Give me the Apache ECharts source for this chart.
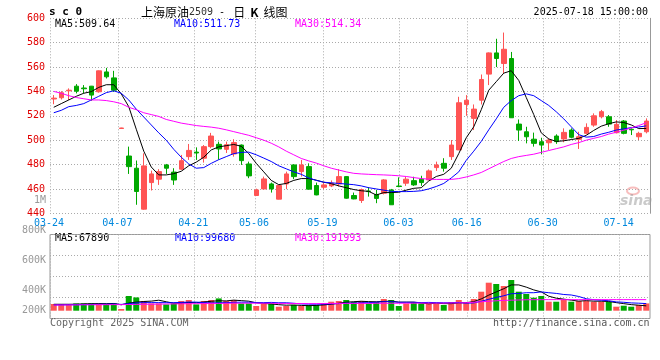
<!DOCTYPE html>
<html><head><meta charset="utf-8">
<script src="https://cdn.jsdelivr.net/npm/echarts@6/dist/echarts.min.js"></script>
<style>html,body{margin:0;padding:0;background:#fff}#c{width:660px;height:360px}</style>
</head><body><div id="c"></div>
<script>
const dates=['03-24','03-25','03-26','03-27','03-28','03-31','04-01','04-02','04-03','04-07','04-08','04-09','04-10','04-11','04-14','04-15','04-16','04-17','04-18','04-21','04-22','04-23','04-24','04-25','04-28','04-29','04-30','05-06','05-07','05-08','05-09','05-12','05-13','05-14','05-15','05-16','05-19','05-20','05-21','05-22','05-23','05-26','05-27','05-28','05-29','05-30','06-03','06-04','06-05','06-06','06-09','06-10','06-11','06-12','06-13','06-16','06-17','06-18','06-19','06-20','06-23','06-24','06-25','06-26','06-27','06-30','07-01','07-02','07-03','07-04','07-07','07-08','07-09','07-10','07-11','07-14','07-15','07-16','07-17','07-18'];
const labelDates=['03-24','04-07','04-21','05-06','05-19','06-03','06-16','06-30','07-14'];

const open=[533.8,534.8,540.5,544.3,542.8,544.3,539.7,556,551.1,509.6,
487,477,443.4,465.2,468,479.7,473.8,476.2,486.5,490.2,
485.2,494.7,496.6,492.5,488.7,496,480.5,454.6,460,464.1,
451.6,464.1,479.7,474.2,478.3,462.8,461.4,462.5,464.1,470.1,
454.6,450.5,458.3,455.5,456.5,459.2,462.4,464.7,466.8,468,
467.4,477.5,481,486.5,492,529.3,517.9,532.8,554.2,571.6,
562.9,567,513.2,506.9,500.8,498.7,497.9,503.4,501,508.3,
500.7,505.6,512.4,519.2,519.2,506.1,515.7,509,502.8,506.9];
const close=[534.5,538.9,541,540.2,542.2,537,556.9,552,541,510,
478.3,457.9,478.9,472.3,474.2,477,467.3,483.2,491.6,489.5,
494.7,503.4,492.8,496.3,498,483.2,470.7,459.2,468.2,460,
462.8,472.3,470.1,479.7,459.8,455.1,463.3,464.7,470.1,452.4,
451.8,459.5,457.8,452.2,467.4,447,462,468,463.3,465.2,
474.8,479.7,477,496,530.7,532.8,525.5,549.8,571.6,567,
574.6,518.4,508.3,502.8,497.4,496,500.1,498.8,506.4,502.4,
502.8,510.5,520,523.4,513.2,513,505.6,508.5,505.6,515.7];
const low=[529.5,533.4,532.9,538.4,538.4,532.3,539,550.6,539.7,509.4,
472.3,447,442.9,458.7,463.3,472.3,463.3,475.6,483.8,483.8,
481.6,493.4,484,489.5,486.5,479.7,468.8,454.4,459.8,457,
451.4,459.8,468,470.1,459.6,454.8,459.8,461.5,462,452,
451.5,448.5,453.7,448.3,455.5,446.8,461.4,462.5,462.5,462.5,
467.3,474.8,474.2,483.8,492,520,508.3,529.3,545.2,560,
554.7,518.2,499.3,497.4,494.7,488.4,492,497,498.3,501.5,
492.8,504.8,511,517.9,511,505.6,504.8,504.2,500.1,505.6];
const high=[537,540.2,542.5,546,545.2,544.5,557.2,559.3,556.9,510.2,
494.7,483.3,489.2,475,476.2,480.5,477,487.9,496.9,494.1,
496,506,498.8,498.8,500.8,496.5,482.4,460.2,470.1,465.2,
463.2,474.2,480.2,483.8,481,465.2,465.2,467,476.2,470.5,
457,460.3,461.5,459.2,468,460,469.5,470,470,470.8,
476,482.4,485.2,500.1,535.6,537,529.3,553.9,572,583.2,
588.3,572.4,517,511,506.2,502,501.5,504.8,509.7,509.7,
506.9,513.8,522,524.8,520.6,516.5,516.5,509.7,506.9,517.9];

const ma5=[527,530,533,536,538.5,539.8,543.3,545.5,545.5,538,
527.5,509,491,478,471.5,471.5,472.5,474.5,479,482,
486,492,494.5,495.5,496.5,495,489,481,474,467,
463.5,464.5,467,468.5,468.5,467.2,465.5,464.3,462.5,461,
459.5,458.5,458,455,457,457,457.3,459,460.5,461,
466.5,470.2,472,477,489,502,511,525,541,548,
555,557,549,535,521,506,501,499,499.5,500.5,
501.5,504,508,511.5,513.5,515,514.5,512.5,509.5,509.64];
const ma10=[522.5,524.5,527.5,528.5,530,533,536,539,540.5,538.5,
533,525.5,519,512.5,506,500,492.5,486,480.5,477,
477.5,481,484,486.5,489,490,490.2,488,485.3,482.5,
479,476.5,474,472,469,467,465.5,465,464.5,464,
463.5,462.5,461,460,459,458,457.8,457.8,458,458.5,
460,462,464.5,469,474,483.5,491,499,508.5,517.5,
527,532.5,536.5,538,536.5,532.5,528.5,523.3,517.5,511,
504.5,502.5,503,505,506.5,508.3,509.3,510.3,510.8,511.73];
const ma30=[540,538.5,536.5,535,534,533,533,532.5,531.5,530,
527,525,522.5,521,519.5,517,515.5,514,513,512,
511.3,510.7,509.8,508.5,507,505.5,504,502,500,497.5,
494.5,491,488,485,483,481.2,479,477,475.5,474,
472.8,472.3,472,471.7,471.5,471.2,470.8,470.2,469.3,468.5,
468,467.8,467.8,467.8,468.5,469.8,471.5,473.5,476.5,479.5,
482.5,485,486.5,487.5,488.5,490,491.5,493,494.5,496.5,
498,500,501.5,503,505,506.5,508.2,510,512,514.34];

const vol=[94000,94000,94000,102000,102000,102000,102000,94000,102000,24000,
206000,186000,136000,102000,102000,88000,102000,136000,150000,88000,
136000,150000,172000,136000,150000,102000,102000,66000,94000,102000,
56000,66000,80000,66000,80000,80000,102000,126000,136000,150000,
122000,136000,102000,122000,164000,150000,66000,102000,122000,102000,
102000,94000,80000,122000,150000,122000,164000,266000,392000,374000,
346000,430000,266000,234000,182000,206000,126000,126000,158000,126000,
136000,136000,126000,126000,122000,56000,70000,56000,80000,102000];
const volMa5=[90000,90000,90000,91000,95000,98000,99000,99000,101000,83000,
106000,120000,129000,134000,147000,125000,105000,106000,116000,112000,
122000,132000,139000,137000,148000,141000,133000,111000,102000,95000,
84000,77000,80000,74000,70000,74000,81000,91000,105000,119000,
126000,132000,127000,125000,130000,134000,120000,120000,120000,108000,
97000,104000,99000,99000,109000,113000,127000,165000,218000,263000,
308000,361000,361000,330000,291000,263000,203000,175000,162000,148000,
134000,141000,134000,133000,129000,113000,99000,85000,77000,67890];
const volMa10=[80000,81000,83000,84000,85000,88000,90000,91000,94000,88000,
99000,108000,113000,113000,113000,112000,112000,116000,120000,120000,
113000,109000,111000,113000,118000,119000,119000,113000,113000,116000,
111000,111000,104000,95000,92000,91000,92000,95000,99000,106000,
106000,111000,113000,118000,126000,126000,118000,118000,118000,113000,
116000,113000,111000,111000,115000,105000,109000,132000,160000,186000,
209000,238000,241000,252000,252000,263000,252000,242000,227000,220000,
199000,167000,154000,147000,139000,123000,118000,109000,105000,99680];
const volMa30=[80000,80000,81000,81000,83000,83000,84000,84000,85000,85000,
87000,88000,90000,91000,92000,94000,95000,97000,98000,98000,
99000,101000,102000,104000,105000,105000,105000,105000,104000,104000,
102000,102000,101000,101000,99000,99000,101000,102000,102000,102000,
102000,102000,102000,104000,104000,104000,104000,105000,105000,106000,
106000,106000,106000,108000,109000,112000,118000,125000,132000,139000,
144000,147000,150000,153000,154000,154000,155000,155000,155000,155000,
155000,155000,155000,155000,155000,155000,155000,155000,155000,155000];

const priceMaLabels=['MA5:509.64','MA10:511.73','MA30:514.34'];
const volMaLabels=['MA5:67890','MA10:99680','MA30:191993'];
const volTickValues=[200000,400000,600000,800000,1000000];
const volTickLabels=['200K','400K','600K','800K','1M'];

const UP='#ff5454', DOWN='#00a800';
const MONO='"DejaVu Sans Mono", monospace';
const CJK='"Noto Sans CJK SC", sans-serif';
const MA_COLORS=['#000000','#0000ff','#ff00ff'];
const dotted={color:'#aaa',type:[1,2],width:1};
const isLabel=(i)=>labelDates.indexOf(dates[i])>=0;

const chart=echarts.init(document.getElementById('c'),null,{renderer:'canvas'});

function txt(x,y,text,color,opts){
  return Object.assign({type:'text',x:x,y:y,silent:true,style:Object.assign({text:text,fill:color,font:'10px '+MONO,
    align:'left',textAlign:'left',verticalAlign:'middle',textVerticalAlign:'middle'},opts||{})});
}

const option={
  animation:false,
  backgroundColor:'#fff',
  grid:[
    {left:50,width:600,top:18.3,height:195},
    {left:50,width:600,top:234.5,height:84,show:true,borderColor:'#999',borderWidth:1,backgroundColor:'transparent'},
    {left:50,width:600,top:234.5,height:76.2},
    {left:50,width:600,top:200.7,height:120}
  ],
  xAxis:[
    {gridIndex:0,type:'category',data:dates,boundaryGap:true,show:false,position:'bottom'},
    {gridIndex:0,type:'category',data:dates,boundaryGap:false,position:'bottom',axisLine:{show:false},axisTick:{show:false},
      axisLabel:{interval:(i)=>isLabel(i),color:'#0088dd',fontFamily:MONO,fontSize:10,margin:5,padding:[0,2,0,0]},
      splitLine:{show:true,interval:(i)=>isLabel(i),lineStyle:dotted}},
    {gridIndex:1,type:'category',data:dates,boundaryGap:false,position:'bottom',axisLine:{show:false},axisTick:{show:false},axisLabel:{show:false},
      splitLine:{show:true,interval:(i)=>isLabel(i),lineStyle:dotted}},
    {gridIndex:2,type:'category',data:dates,boundaryGap:true,show:false,position:'bottom'},
    {gridIndex:3,type:'category',data:dates,boundaryGap:true,show:false,position:'bottom'}
  ],
  yAxis:[
    {gridIndex:0,type:'value',position:'left',min:440,max:600,interval:20,axisLine:{show:false},axisTick:{show:false},
      axisLabel:{color:'#e00000',fontFamily:MONO,fontSize:10,margin:5},splitLine:{show:true,lineStyle:dotted}},
    {gridIndex:0,type:'value',position:'right',min:440,max:600,interval:20,axisLine:{show:true,lineStyle:{color:'#999',width:1}},
      axisTick:{show:false},axisLabel:{show:false},splitLine:{show:false}},
    {gridIndex:1,type:'value',position:'left',min:0,max:4,interval:1,axisLine:{show:false},axisTick:{show:false},axisLabel:{show:false},
      splitLine:{show:true,lineStyle:dotted}},
    {gridIndex:2,type:'value',position:'left',min:0,max:1067000,show:false},
    {gridIndex:3,type:'value',position:'left',min:200000,max:1000000,interval:200000,axisLine:{show:false},axisTick:{show:false},splitLine:{show:false},
      axisLabel:{color:'#999',fontFamily:MONO,fontSize:10,margin:4,
        formatter:(v)=>{const k=volTickValues.indexOf(v);const s=k>=0?volTickLabels[k]:'';return k===0?'{lo|'+s+'}':s;},
        rich:{lo:{color:'#999',fontFamily:MONO,fontSize:10,padding:[0,0,20,0]}}}}
  ],
  series:[
    {type:'candlestick',xAxisIndex:0,yAxisIndex:0,barWidth:5,silent:true,
      data:dates.map((d,i)=>[open[i],close[i],low[i],high[i]]),
      itemStyle:{color:UP,color0:DOWN,borderColor:UP,borderColor0:DOWN,borderWidth:1}},
    {type:'line',xAxisIndex:0,yAxisIndex:0,data:ma5,symbol:'none',silent:true,lineStyle:{color:MA_COLORS[0],width:1}},
    {type:'line',xAxisIndex:0,yAxisIndex:0,data:ma10,symbol:'none',silent:true,lineStyle:{color:MA_COLORS[1],width:1}},
    {type:'line',xAxisIndex:0,yAxisIndex:0,data:ma30,symbol:'none',silent:true,lineStyle:{color:MA_COLORS[2],width:1}},
    {type:'bar',xAxisIndex:3,yAxisIndex:3,barWidth:6,silent:true,
      data:vol.map((v,i)=>({value:v,itemStyle:{color:close[i]>=open[i]?UP:DOWN}}))},
    {type:'line',xAxisIndex:3,yAxisIndex:3,data:volMa5,symbol:'none',silent:true,lineStyle:{color:MA_COLORS[0],width:1}},
    {type:'line',xAxisIndex:3,yAxisIndex:3,data:volMa10,symbol:'none',silent:true,lineStyle:{color:MA_COLORS[1],width:1}},
    {type:'line',xAxisIndex:3,yAxisIndex:3,data:volMa30,symbol:'none',silent:true,lineStyle:{color:MA_COLORS[2],width:1}}
  ],
  graphic:{elements:[
    txt(49,12.5,'s c 0','#000',{font:'bold 11px '+MONO}),
    {type:'text',x:141,y:12,silent:true,style:{text:'{a|上海原油}{b|2509}{c| - }{a|日}{k|K}{a|线图}',
      verticalAlign:'middle',textVerticalAlign:'middle',align:'left',textAlign:'left',
      rich:{a:{fontFamily:CJK,fontSize:12,fill:'#000'},
            b:{fontFamily:MONO,fontSize:10,fill:'#333'},
            c:{fontFamily:MONO,fontSize:10,fill:'#000',padding:[0,2,0,0]},
            k:{fontFamily:CJK,fontSize:12,fontWeight:'bold',fill:'#000',padding:[0,5,0,5]}}}},
    txt(648,12.5,'2025-07-18 15:00:00','#000',{align:'right',textAlign:'right'}),
    txt(55,24.5,priceMaLabels[0],MA_COLORS[0]),
    txt(174,24.5,priceMaLabels[1],MA_COLORS[1]),
    txt(295,24.5,priceMaLabels[2],MA_COLORS[2]),
    txt(55,238.5,volMaLabels[0],MA_COLORS[0]),
    txt(175,238.5,volMaLabels[1],MA_COLORS[1]),
    txt(295,238.5,volMaLabels[2],MA_COLORS[2]),
    txt(50,323.5,'Copyright 2025 SINA.COM','#666'),
    txt(649.5,323.5,'http://finance.sina.com.cn','#555',{align:'right',textAlign:'right'}),
    {type:'ellipse',silent:true,shape:{cx:633,cy:191,rx:6,ry:3.5},style:{fill:'none',stroke:'rgba(240,110,110,0.45)',lineWidth:2}},
    txt(620,201,'sina','rgba(150,150,150,0.5)',{font:'italic bold 14px "DejaVu Sans", sans-serif'})
  ]}
};
chart.setOption(option);
</script>
</body></html>
